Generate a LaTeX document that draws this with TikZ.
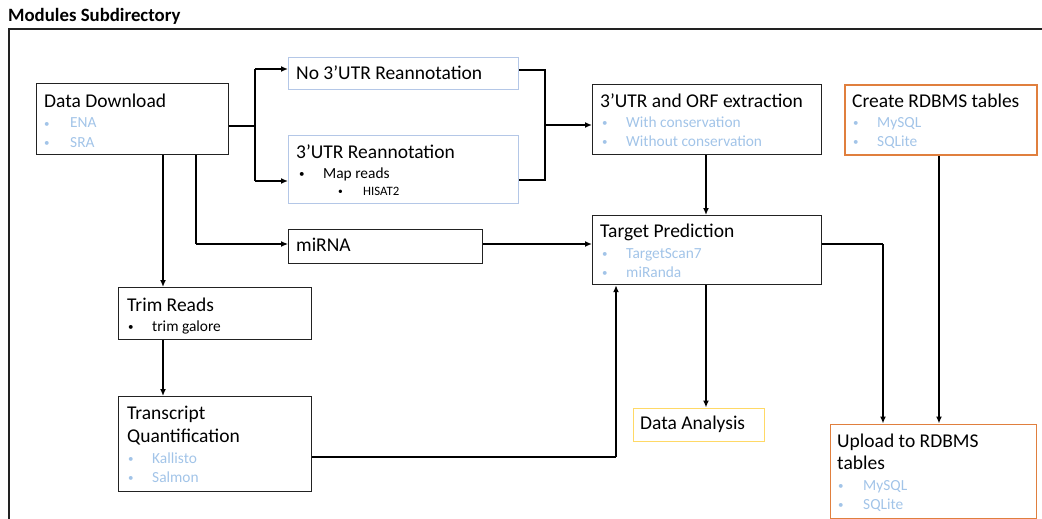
\documentclass[tikz,border=0pt]{standalone}
\usepackage{fontspec}
\setmainfont{Carlito}
\usetikzlibrary{arrows.meta}
\definecolor{lblue}{HTML}{A2C4E8}
\definecolor{boxblue}{HTML}{B4C7E7}
\definecolor{orng}{HTML}{E07F3E}
\definecolor{yel}{HTML}{FFD966}
\definecolor{edge}{HTML}{222222}
\tikzset{
  box/.style={draw=edge, line width=1.2pt, inner sep=0pt, anchor=north west},
  bluebox/.style={box, draw=boxblue},
  orangebox/.style={box, draw=orng, line width=1.6pt},
  yellowbox/.style={box, draw=yel, line width=1.6pt},
  ttl/.style={anchor=base west, inner sep=0pt, font=\fontsize{19.5}{22}\selectfont},
  itm/.style={anchor=base west, inner sep=0pt, font=\fontsize{15.4}{18}\selectfont},
  sitm/.style={anchor=base west, inner sep=0pt, font=\fontsize{12.8}{15}\selectfont},
  bul/.style={anchor=base west, inner sep=0pt, font=\fontsize{11}{13}\selectfont},
  sbul/.style={anchor=base west, inner sep=0pt, font=\fontsize{9.5}{11}\selectfont},
  thinline/.style={line width=1.2pt},
  arr/.style={line width=2pt, -{Latex[length=7pt,width=6pt]}},
}
\begin{document}
\begin{tikzpicture}[x=1pt,y=-1pt]
\useasboundingbox (0,0) rectangle (1042,519);
% heading and frame
\node[anchor=base west, inner sep=0pt, font=\bfseries\fontsize{18.8}{20}\selectfont] (title) at (8,22) {Modules Subdirectory};
\draw[line width=1.1pt, draw=edge] (9,519) -- (9,29) -- (1042,29);

% boxes
\node[box, minimum width=192pt, minimum height=71pt] (dd) at (36,83) {};
\node[bluebox, minimum width=230pt, minimum height=32pt] (no) at (288,57) {};
\node[bluebox, minimum width=230pt, minimum height=68pt] (re) at (288,135) {};
\node[box, minimum width=229pt, minimum height=70pt] (orf) at (592,84) {};
\node[orangebox, minimum width=192pt, minimum height=70pt] (crt) at (844,84) {};
\node[box, minimum width=229pt, minimum height=69pt] (tp) at (592,215) {};
\node[box, minimum width=194pt, minimum height=34pt] (mi) at (288,229) {};
\node[box, minimum width=193pt, minimum height=52pt] (tr) at (118,287) {};
\node[box, minimum width=193pt, minimum height=95pt] (tq) at (118,396) {};
\node[yellowbox, minimum width=131pt, minimum height=33pt] (da) at (632.5,407.5) {};
\node[orangebox, minimum width=206pt, minimum height=94pt] (up) at (829.5,423.5) {};

% Data Download
\node[ttl] (ddt) at (44,107) {Data Download};
\node[bul, text=lblue] (ddb1) at (44,127) {•};
\node[itm, text=lblue] (ddi1) at (70,128) {ENA};
\node[bul, text=lblue] (ddb2) at (44,146) {•};
\node[itm, text=lblue] (ddi2) at (70,147) {SRA};

% reannotation branches
\node[ttl] (not) at (296,80) {No 3’UTR Reannotation};
\node[ttl] (ret) at (296,158) {3’UTR Reannotation};
\node[bul] (reb1) at (299,177) {•};
\node[itm] (rei1) at (323,178) {Map reads};
\node[sbul] (reb2) at (338,194) {•};
\node[sitm] (rei2) at (363,195) {HISAT2};

% extraction
\node[ttl] (orft) at (600,107) {3’UTR and ORF extraction};
\node[bul, text=lblue] (orfb1) at (602,126) {•};
\node[itm, text=lblue] (orfi1) at (626,127) {With conservation};
\node[bul, text=lblue] (orfb2) at (602,145) {•};
\node[itm, text=lblue] (orfi2) at (626,146) {Without conservation};

% database tables
\node[ttl] (crtt) at (852,107) {Create RDBMS tables};
\node[bul, text=lblue] (crtb1) at (853,126) {•};
\node[itm, text=lblue] (crti1) at (877,127) {MySQL};
\node[bul, text=lblue] (crtb2) at (853,145) {•};
\node[itm, text=lblue] (crti2) at (877,146) {SQLite};

% target prediction
\node[ttl] (tpt) at (600,237) {Target Prediction};
\node[bul, text=lblue] (tpb1) at (602,257) {•};
\node[itm, text=lblue] (tpi1) at (626,258) {TargetScan7};
\node[bul, text=lblue] (tpb2) at (602,276) {•};
\node[itm, text=lblue] (tpi2) at (626,277) {miRanda};

% miRNA
\node[ttl] (mit) at (296,251) {miRNA};

% trimming
\node[ttl] (trt) at (127,311) {Trim Reads};
\node[bul] (trb) at (128,330) {•};
\node[itm] (tri) at (152,331) {trim galore};

% quantification
\node[ttl] (tqt1) at (127,419) {Transcript};
\node[ttl] (tqt2) at (127,442) {Quantification};
\node[bul, text=lblue] (tqb1) at (128,462) {•};
\node[itm, text=lblue] (tqi1) at (152,463) {Kallisto};
\node[bul, text=lblue] (tqb2) at (128,481) {•};
\node[itm, text=lblue] (tqi2) at (152,482) {Salmon};

% analysis
\node[ttl] (dat) at (640,429) {Data Analysis};

% upload
\node[ttl] (upt1) at (837,447) {Upload to RDBMS};
\node[ttl] (upt2) at (837,469) {tables};
\node[bul, text=lblue] (upb1) at (838,489) {•};
\node[itm, text=lblue] (upi1) at (863,490) {MySQL};
\node[bul, text=lblue] (upb2) at (838,508) {•};
\node[itm, text=lblue] (upi2) at (863,509) {SQLite};

% routing points
\coordinate (sp) at (255,126);
\coordinate (spT) at (255,69);
\coordinate (spB) at (255,181);
\coordinate (mT) at (545,70);
\coordinate (mB) at (545,180);
\coordinate (mM) at (545,125);
\coordinate (c1) at (163,0);
\coordinate (c2) at (196,244);
\coordinate (c3) at (0,244);
\coordinate (c4) at (616,457);
\coordinate (c5) at (883,244);
\coordinate (c6) at (939,0);
\coordinate (c7) at (706,0);

% connectors
\draw[thinline] (dd.east |- sp) -- (sp);
\draw[thinline] (spT) -- (spB);
\draw[arr] (spT) -- (no.west |- spT);
\draw[arr] (spB) -- (re.west |- spB);
\draw[thinline] (no.east |- mT) -- (mT) -- (mB) -- (re.east |- mB);
\draw[arr] (mM) -- (orf.west |- mM);
\draw[arr] (orf.south -| c7) -- (tp.north -| c7);
\draw[arr] (tp.south -| c7) -- (da.north -| c7);
\draw[arr] (dd.south -| c1) -- (tr.north -| c1);
\draw[arr] (tr.south -| c1) -- (tq.north -| c1);
\draw[thinline] (dd.south -| c2) -- (c2);
\draw[thinline, -{Latex[length=7pt,width=6pt]}] (c2) -- (mi.west |- c2);
\draw[arr] (mi.east |- c3) -- (tp.west |- c3);
\draw[thinline] (tq.east |- c4) -- (c4);
\draw[arr] (c4) -- (tp.south -| c4);
\draw[thinline] (tp.east |- c5) -- (c5);
\draw[arr] (c5) -- (up.north -| c5);
\draw[arr] (crt.south -| c6) -- (up.north -| c6);
\end{tikzpicture}
\end{document}
